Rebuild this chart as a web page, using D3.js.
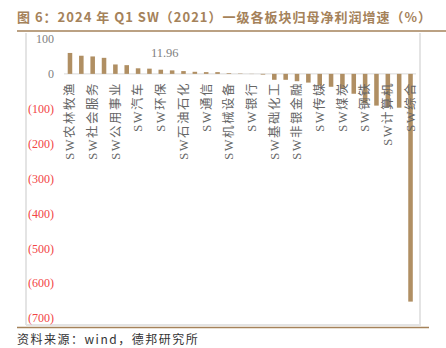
<!DOCTYPE html>
<html>
<head>
<meta charset="utf-8">
<script src="https://cdn.jsdelivr.net/npm/d3@7"></script>
<style>
  body { margin: 0; background: #fff; }
  svg { display: block; }
</style>
</head>
<body>
<div id="chart"></div>
<script>
// 31 sectors, only every other one is labelled on the axis
const sectors = [
  'SW农林牧渔', '', 'SW社会服务', '', 'SW公用事业', '', 'SW汽车', '', 'SW环保', '',
  'SW石油石化', '', 'SW通信', '', 'SW机械设备', '', 'SW银行', '', 'SW基础化工', '',
  'SW非银金融', '', 'SW传媒', '', 'SW煤炭', '', 'SW钢铁', '', 'SW计算机', '', 'SW综合'
];
const growth = [
  60, 52, 50, 46, 27, 25, 16, 15, 11.96, 10,
  8, 6, 5, 5, 2, 1, -0.5, -2, -17, -17,
  -21, -25, -34, -37, -43, -57, -85, -91, -95, -97, -653
];
const yTicks = [100, 0, -100, -200, -300, -400, -500, -600, -700];
const labelled = 8; // index of the bar carrying the 11.96 label

const W = 446, H = 348;
const svg = d3.select('#chart').append('svg')
  .attr('width', W)
  .attr('height', H);

const brown = '#a5825a';
const barColor = '#b08f63';

// title
svg.append('text')
  .attr('x', 17)
  .attr('y', 22)
  .style('font-family', "'Noto Sans CJK SC', sans-serif")
  .style('font-size', '13px')
  .style('font-weight', 'bold')
  .style('letter-spacing', '1px')
  .style('fill', brown)
  .text('图 6：2024 年 Q1 SW（2021）一级各板块归母净利润增速（%）');

// rules top / bottom
svg.append('line').attr('x1', 17).attr('x2', 446).attr('y1', 31).attr('y2', 31)
  .style('stroke', brown).style('stroke-width', 1.5);
svg.append('line').attr('x1', 17).attr('x2', 429).attr('y1', 327.5).attr('y2', 327.5)
  .style('stroke', brown).style('stroke-width', 1.5);

// light frame of the plot
const frame = '#e4e4e4';
svg.append('line').attr('x1', 26).attr('x2', 26).attr('y1', 33).attr('y2', 325)
  .style('stroke', frame).style('stroke-width', 2);
svg.append('line').attr('x1', 420).attr('x2', 420).attr('y1', 33).attr('y2', 325)
  .style('stroke', frame).style('stroke-width', 2);
svg.append('line').attr('x1', 26).attr('x2', 421).attr('y1', 325).attr('y2', 325)
  .style('stroke', frame).style('stroke-width', 2);

const x = d3.scaleBand()
  .domain(d3.range(sectors.length))
  .range([64.3, 416.2])
  .paddingInner(0.6)
  .paddingOuter(0.3);

const y = d3.scaleLinear()
  .domain([-700, 100])
  .range([318, 39]);

// y axis labels
const yAxis = svg.append('g')
  .attr('transform', 'translate(54,0)')
  .call(d3.axisLeft(y).tickValues(yTicks).tickSize(0).tickPadding(0)
    .tickFormat(d => d < 0 ? '(' + (-d) + ')' : d));
yAxis.select('.domain').remove();
yAxis.selectAll('text')
  .style('font-family', "'Liberation Serif', serif")
  .style('font-size', '12px')
  .style('fill', d => d < 0 ? '#f24545' : '#7f7f7f');

// zero line
svg.append('line')
  .attr('x1', 64).attr('x2', 416)
  .attr('y1', y(0)).attr('y2', y(0))
  .style('stroke', '#d9d9d9').style('stroke-width', 1);

// bars
svg.append('g').selectAll('rect')
  .data(growth)
  .join('rect')
  .attr('x', (d, i) => x(i))
  .attr('width', x.bandwidth())
  .attr('y', d => y(Math.max(0, d)))
  .attr('height', d => Math.abs(y(d) - y(0)))
  .style('fill', barColor);

// data label
svg.append('text')
  .attr('x', x(labelled) + x.bandwidth() / 2 + 4)
  .attr('y', y(growth[labelled]) - 13)
  .attr('text-anchor', 'middle')
  .style('font-family', "'Liberation Serif', serif")
  .style('font-size', '12.5px')
  .style('fill', '#7f7f7f')
  .text(d3.format('.2f')(growth[labelled]));

// category labels, rotated
svg.append('g').selectAll('text')
  .data(sectors)
  .join('text')
  .attr('transform', (d, i) => 'translate(' + (x(i) + x.bandwidth() / 2) + ',' + (y(0) + 8) + ') rotate(-90)')
  .attr('dy', '0.35em')
  .attr('text-anchor', 'end')
  .style('font-family', "'Liberation Serif', 'Noto Sans CJK SC', serif")
  .style('font-size', '12.5px')
  .style('letter-spacing', '1.5px')
  .style('fill', '#666')
  .text(d => d);

// source
svg.append('text')
  .attr('x', 17)
  .attr('y', 344)
  .style('font-family', "'Noto Sans CJK SC', sans-serif")
  .style('font-size', '12px')
  .style('letter-spacing', '1.5px')
  .style('fill', '#333')
  .text('资料来源：wind，德邦研究所');
</script>
</body>
</html>
